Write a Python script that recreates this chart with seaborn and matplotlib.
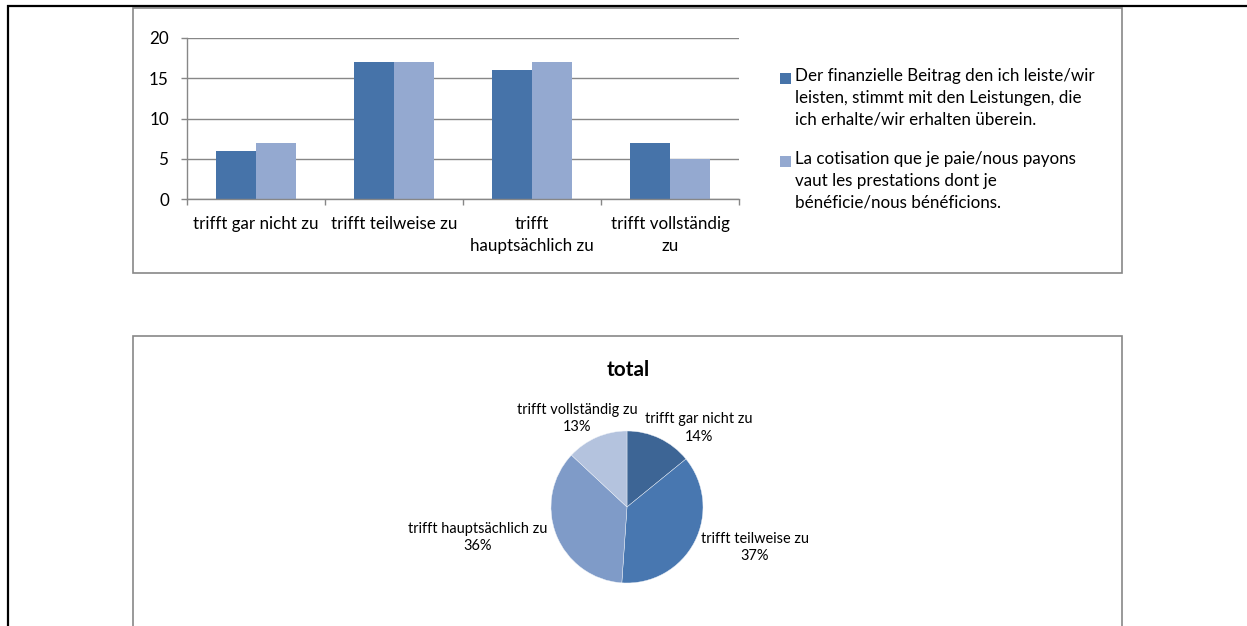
import matplotlib
matplotlib.use("Agg")
import matplotlib.pyplot as plt
import seaborn as sns
import pandas as pd
import numpy as np
from matplotlib.patches import Rectangle
from matplotlib.lines import Line2D
from matplotlib.ticker import FixedLocator

# ---------------- data ----------------
categories = ["trifft gar nicht zu", "trifft teilweise zu",
              "trifft hauptsächlich zu", "trifft vollständig zu"]
tick_labels = ["trifft gar nicht zu", "trifft teilweise zu",
               "trifft\nhauptsächlich zu", "trifft vollständig\nzu"]
series_names = [
    "Der finanzielle Beitrag den ich leiste/wir leisten, stimmt mit den Leistungen, die ich erhalte/wir erhalten überein.",
    "La cotisation que je paie/nous payons vaut les prestations dont je bénéficie/nous bénéficions.",
]
legend_labels = [
    "Der finanzielle Beitrag den ich leiste/wir\nleisten, stimmt mit den Leistungen, die\nich erhalte/wir erhalten überein.",
    "La cotisation que je paie/nous payons\nvaut les prestations dont je\nbénéficie/nous bénéficions.",
]
values_de = [6, 17, 16, 7]
values_fr = [7, 17, 17, 5]
y_ticks = [0, 5, 10, 15, 20]

pie_title = "total"
pie_labels = ["trifft gar nicht zu", "trifft teilweise zu",
              "trifft hauptsächlich zu", "trifft vollständig zu"]
pie_values = [13, 34, 33, 12]

# ---------------- style ----------------
bar_colors = ["#4673A9", "#94A9D0"]
pie_colors = ["#3D6595", "#4877B0", "#7F9BC8", "#B4C3DE"]
GRAY = "#878787"
FONT = "Lato"

sns.set_theme(style="white")
plt.rcParams["font.family"] = [FONT, "DejaVu Sans"]

W, H = 1247, 626
fig = plt.figure(figsize=(W / 100, H / 100), dpi=100)
renderer = fig.canvas.get_renderer()


def fit_size(text, target_px, weight="normal"):
    t = fig.text(0, 0, text, fontsize=10, fontweight=weight, family=[FONT, "DejaVu Sans"])
    w = t.get_window_extent(renderer=renderer).width
    t.remove()
    return 10 * target_px / w


fs_axis = fit_size("trifft gar nicht zu", 125)
fs_pie = fit_size("trifft gar nicht zu", 107)
fs_title = fit_size("total", 43, weight="bold")


def frac_box(x0, y0, x1, y1):
    return [x0 / W, 1 - y1 / H, (x1 - x0) / W, (y1 - y0) / H]


# page border lines (black)
fig.add_artist(Line2D([7 / W, 1], [1 - 6 / H, 1 - 6 / H], color="black", lw=1.6,
                      transform=fig.transFigure, solid_capstyle="butt"))
fig.add_artist(Line2D([8 / W, 8 / W], [1 - 5 / H, 0], color="black", lw=1.6,
                      transform=fig.transFigure, solid_capstyle="butt"))

# chart frames (gray)
fig.add_artist(Rectangle((133 / W, 1 - 273 / H), (1122 - 133) / W, (273 - 8) / H,
                         transform=fig.transFigure, fill=False, ec=GRAY, lw=1.2))
fig.add_artist(Rectangle((133 / W, -0.05), (1122 - 133) / W, 1 - 336 / H + 0.05,
                         transform=fig.transFigure, fill=False, ec=GRAY, lw=1.2))

# ---------------- bar chart ----------------
ax = fig.add_axes(frac_box(187, 38, 739, 199))
df = pd.DataFrame({
    "cat": categories * 2,
    "val": values_de + values_fr,
    "series": [series_names[0]] * 4 + [series_names[1]] * 4,
})
sns.barplot(data=df, x="cat", y="val", hue="series", order=categories,
            hue_order=series_names, palette=bar_colors, saturation=1,
            width=0.573, ax=ax, legend=False, linewidth=0)
ax.set_xlim(-0.5, 3.5)
ax.set_ylim(0, 20)
ax.set_yticks(y_ticks)
ax.set_xticks(range(len(categories)))
ax.set_xticklabels(tick_labels, fontsize=fs_axis, color="black")
ax.xaxis.set_minor_locator(FixedLocator(np.arange(-0.5, 4, 1)))
ax.set_xlabel("")
ax.set_ylabel("")
ax.set_axisbelow(True)
ax.grid(axis="y", color=GRAY, lw=1.0)
ax.grid(axis="x", visible=False)
for s in ["top", "right"]:
    ax.spines[s].set_visible(False)
for s in ["left", "bottom"]:
    ax.spines[s].set_color(GRAY)
    ax.spines[s].set_linewidth(1.0)
ax.tick_params(axis="y", which="major", length=4, width=1.0, color=GRAY,
               labelsize=fs_axis, labelcolor="black", pad=9, left=True)
ax.tick_params(axis="x", which="major", length=0, pad=12.5, labelcolor="black")
ax.tick_params(axis="x", which="minor", length=4, width=1.0, color=GRAY, bottom=True)
for t in ax.get_xticklabels():
    t.set_linespacing(1.43)

# legend (drawn to the right of the plot, square aligned to first line)
leg_tops = [78, 161]
for lab, col, ty in zip(legend_labels, bar_colors, leg_tops):
    fig.add_artist(Rectangle((780 / W, 1 - (ty + 5.5) / H), 11 / W, 11 / H,
                             transform=fig.transFigure, fc=col, ec="none"))
    fig.text(795 / W, 1 - (ty - 10) / H, lab, fontsize=fs_axis, color="black",
             ha="left", va="top", linespacing=1.43)

# ---------------- pie chart ----------------
R = 76
pax = fig.add_axes(frac_box(627 - R, 507 - R, 627 + R, 507 + R))
total = sum(pie_values)
pct_labels = [f"{n}\n{round(100 * v / total):d}%" for n, v in zip(pie_labels, pie_values)]
wedges, texts = pax.pie(pie_values, colors=pie_colors, startangle=90, counterclock=False,
                        labels=pct_labels, labeldistance=1.3,
                        wedgeprops=dict(edgecolor="#EEF2F8", linewidth=0.3),
                        textprops=dict(fontsize=fs_pie, color="black", ha="center",
                                       va="center", linespacing=1.3))
label_pos = [(0.945, 1.04), (1.68, -0.53), (-1.96, -0.40), (-0.66, 1.16)]
for t, p in zip(texts, label_pos):
    t.set_position(p)
    t.set_ha("center")
    t.set_va("center")
    t.set_clip_on(False)
pax.set_xlim(-1, 1)
pax.set_ylim(-1, 1)
pax.set_aspect("equal")
pax.axis("off")

fig.text(628 / W, 1 - 370 / H, pie_title, fontsize=fs_title, fontweight="bold",
         ha="center", va="center", color="black")

fig.savefig("out.png", dpi=100, facecolor="white")
